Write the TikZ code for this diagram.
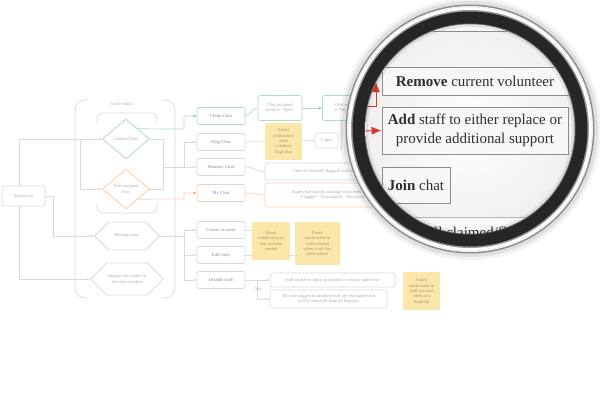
\documentclass[tikz,border=0pt]{standalone}
\usepackage{fontspec}
\setmainfont{Liberation Serif}
\usetikzlibrary{shapes.geometric,shapes.symbols,arrows.meta,backgrounds}
\definecolor{bl}{HTML}{D9D9D9}
\definecolor{bt}{HTML}{ABABAB}
\definecolor{bgreen}{HTML}{ADDCCB}
\definecolor{bgreenA}{HTML}{7CC7AC}
\definecolor{borange}{HTML}{F9CFAE}
\definecolor{borangeA}{HTML}{F5AE78}
\definecolor{byellow}{HTML}{FBE7AA}
\definecolor{lred}{HTML}{D6372E}
\definecolor{ringdark}{HTML}{262626}
\begin{document}
\begin{tikzpicture}[x=1pt,y=-1pt,
  bfont/.style={font=\fontsize{4.5}{5.3}\selectfont},
  bbox/.style={bfont, draw=bl, line width=0.7pt, fill=white, rounded corners=1.5pt, text=bt, align=center, inner sep=1pt},
  lbl/.style={bbox, font=\fontsize{4.5}{5.3}\selectfont\bfseries},
  note/.style={bfont, fill=byellow, draw=none, text=black!35!byellow, align=center, inner sep=1pt},
  bdia/.style={bfont, diamond, draw, line width=0.8pt, fill=white, text=bt, align=center, inner sep=0pt, minimum width=47pt, minimum height=40pt},
  bhex/.style={bfont, signal, signal to=east and west, draw=bl, line width=0.8pt, fill=white, text=bt, align=center, inner sep=1pt, minimum width=65pt},
  bline/.style={draw=bl, line width=0.7pt},
  barrow/.style={bline, -{Latex[length=3pt,width=2.6pt]}},
  gline/.style={draw=bgreen, line width=0.7pt},
  garrow/.style={gline, -{Latex[length=3pt,width=2.6pt,color=bgreenA]}},
  oline/.style={draw=borange, line width=0.7pt},
  oarrow/.style={oline, -{Latex[length=3pt,width=2.6pt,color=borangeA]}},
  lbox/.style={draw=black!45, line width=0.9pt, fill=white!97!black, text=black!82, font=\fontsize{15}{18.5}\selectfont, align=center, inner sep=2pt},
  rline/.style={draw=lred, line width=0.9pt},
  rarrow/.style={rline, -{Latex[length=10pt,width=8pt]}}
]
\useasboundingbox (0,0) rectangle (600,400);

% ---------------- blurred diagram: nodes ----------------
\node[bbox, minimum width=43pt, minimum height=20pt] (sup) at (23.5,196) {Supervisor};
\node[bfont, text=bt] (inbox) at (122,104) {In the inbox};
\node[bdia, draw=bgreen] (gd) at (126,139) {Claimed flow};
\node[bdia, draw=borange] (od) at (126,189) {Non-assigned\\flow};
\node[bhex, minimum height=28pt] (hx1) at (127,236) {Manage users};
\node[bhex, minimum height=32pt] (hx2) at (127,279) {Support tab visible in\\live chat window};

\node[lbl, draw=bgreen, minimum width=48pt, minimum height=17pt] (claim) at (221,116) {Claim Chat};
\node[lbl, minimum width=48pt, minimum height=17pt] (flag) at (221,142) {Flag Chat};
\node[lbl, minimum width=48pt, minimum height=17pt] (monitor) at (221,167) {Monitor Chat};
\node[lbl, draw=borange, minimum width=48pt, minimum height=17pt] (mychat) at (221,193) {My Chat};
\node[lbl, minimum width=48pt, minimum height=17pt] (create) at (221,230) {Create account};
\node[lbl, minimum width=48pt, minimum height=17pt] (edit) at (221,255) {Edit roles};
\node[lbl, minimum width=48pt, minimum height=17pt] (disable) at (221,280) {Disable staff};

\node[bbox, draw=bgreen, minimum width=44pt, minimum height=25pt] (status) at (280,108) {Chat assigned\\status to `Open'};
\node[bbox, draw=bgreen, minimum width=47pt, minimum height=25pt] (claim2) at (346,108) {Chat moved\\to `My Chat'};
\node[bbox, minimum width=23pt, minimum height=15pt] (login) at (326.5,140.5) {Login};
\node[note, minimum width=37pt, minimum height=37pt] (noteF) at (283.5,141.5) {Email\\notification\\when\\volunteer\\flags chat};
\node[bbox, minimum width=135pt, minimum height=17pt] (view) at (332.5,171.5) {View all claimed/ flagged chats in the inbox};
\node[bbox, draw=borange, minimum width=135pt, minimum height=24pt] (mybox) at (332.5,195) {Supervisor cannot unassign volunteers, set as\\`Flagged', `Unassigned', `Resolved'};
\node[note, minimum width=45pt, minimum height=43pt] (noteB) at (317.5,243.5) {Email\\notification to\\staff account\\when a role has\\been edited};
\node[note, minimum width=38pt, minimum height=38pt] (noteA) at (271,241) {Email\\notification to\\new account\\created};
\node[bbox, minimum width=125pt, minimum height=14pt] (d1) at (332.5,280) {Staff unable to login, prompted to contact supervisor};
\node[bbox, minimum width=117pt, minimum height=18pt] (d2) at (328.5,299) {All chats tagged to disabled staff are reassigned and\\will be removed from all displays};
\node[note, minimum width=37pt, minimum height=38pt] (noteC) at (421.5,291) {Email\\notification to\\staff account\\when it is\\disabled};
\node[bfont, text=bt] (yes) at (258,289) {Yes};

% ---------------- blurred diagram: connectors ----------------
\begin{scope}[on background layer]
\fill[white] (0,0) rectangle (600,400);
\draw[bline, rounded corners=10pt] (88,100) -- (75,100) -- (75,298) -- (88,298);
\draw[bline, rounded corners=10pt] (162,100) -- (175,100) -- (175,298) -- (162,298);
\draw[bline, rounded corners=6pt] (97,123) -- (97,113) -- (157,113) -- (157,123);
\draw[bline, rounded corners=6pt] (97,203) -- (97,213) -- (157,213) -- (157,203);
\draw[barrow] ([xshift=-4.5pt]sup.north) |- (gd.west);
\coordinate (k1) at (80,139);
\draw[barrow] (k1) |- (od.west);
\draw[barrow] ([xshift=-4.5pt]sup.south) |- (hx2.west);
\draw[barrow] (sup.east) -- ++(8,0) |- (hx1.west);
\coordinate (j1) at (163,167);
\draw[bline] (gd.east) -| (j1);
\draw[bline] (od.east) -| (j1);
\coordinate (b1) at (184,167);
\coordinate (b0) at (184,142);
\draw[bline] (j1) -- (b1);
\draw[barrow] (b0) -- (flag.west);
\draw[barrow] (b0) -- (b1) -- (monitor.west);
\draw[garrow] (gd.north east) -- (184,129) |- (claim.west);
\draw[oarrow] (od.south east) -- (184,199) |- (mychat.west);
\coordinate (b2) at (184,230);
\coordinate (b3) at (184,280);
\draw[bline] (hx1.east) -- (hx1.east -| b2);
\draw[bline] (b2) -- (b3);
\draw[barrow] (b2) -- (create.west);
\draw[barrow] (edit.west -| b2) -- (edit.west);
\draw[barrow] (b3) -- (disable.west);
\draw[gline] (claim.east) to[out=0,in=180] (status.west);
\draw[garrow] (status.east) -- (claim2.west);
\draw[barrow] (flag.east) -- (login.west);
\coordinate (v1) at (341,96);
\coordinate (v2) at (341,150);
\draw[bline] (v1) -- (v2);
\draw[bline] (monitor.east) to[out=0,in=180] (view.west);
\draw[oline] (mychat.east) to[out=0,in=180] (mybox.west);
\draw[bline] (create.east) -- (create.east -| noteA.west);
\draw[bline] (edit.east) -- (edit.east -| noteB.west);
\draw[bline] (disable.east) -- ++(12,0) coordinate (dj);
\draw[barrow] (dj) -- (d1.west);
\draw[barrow] (dj) |- (d2.west);
\end{scope}

% ---------------- magnifier ----------------
\coordinate (L) at (470,129);
\fill[black, opacity=0.05] (L) circle (131);
\fill[black, opacity=0.07] (L) circle (128);
\fill[black!45] (L) circle (124.5);
\fill[white!94!black] (L) circle (123);
\fill[white] (L) circle (121.5);
\fill[black!40] (L) circle (119);
\fill[ringdark] (L) circle (117.5);
\fill[black!55] (L) circle (105.5);
\begin{scope}
\clip (L) circle (104.5);
\shade[inner color=white, outer color=black!6] (L) circle (104.5);
\node[lbox, minimum width=237pt, minimum height=60pt, anchor=south west] (ltop) at (383,32) {};
\node[lbox, minimum width=186pt, minimum height=28pt] (lrem) at (475,81) {\textbf{Remove} current volunteer};
\node[lbox, minimum width=186pt, minimum height=47pt] (ladd) at (475,130.5) {\textbf{Add} staff to either replace or\\provide additional support};
\node[lbox, minimum width=68pt, minimum height=36pt] (ljoin) at (416,185) {\textbf{Join} chat};
\node[lbox, draw=black!30, minimum width=240pt, minimum height=60pt, anchor=north west] (lview) at (383,217) {};
\node[anchor=north west, text=black!82, font=\fontsize{15}{18.5}\selectfont, inner sep=0pt] (lviewt) at (392,227) {View all claimed/flagged chats};
\coordinate (r0) at (362,106);
\coordinate (r1) at (376,82);
\coordinate (r2) at (362,131);
\coordinate (r3) at (362,185);
\draw[rline] (r0) -- (r3);
\draw[rarrow] (r0) -| (r1);
\draw[rarrow] (r2) -- (ladd.west);
\draw[rarrow] (r3) -- (ljoin.west);
\draw[black, opacity=0.08, line width=3pt] (L) circle (103.5);
\end{scope}
\end{tikzpicture}
\end{document}
